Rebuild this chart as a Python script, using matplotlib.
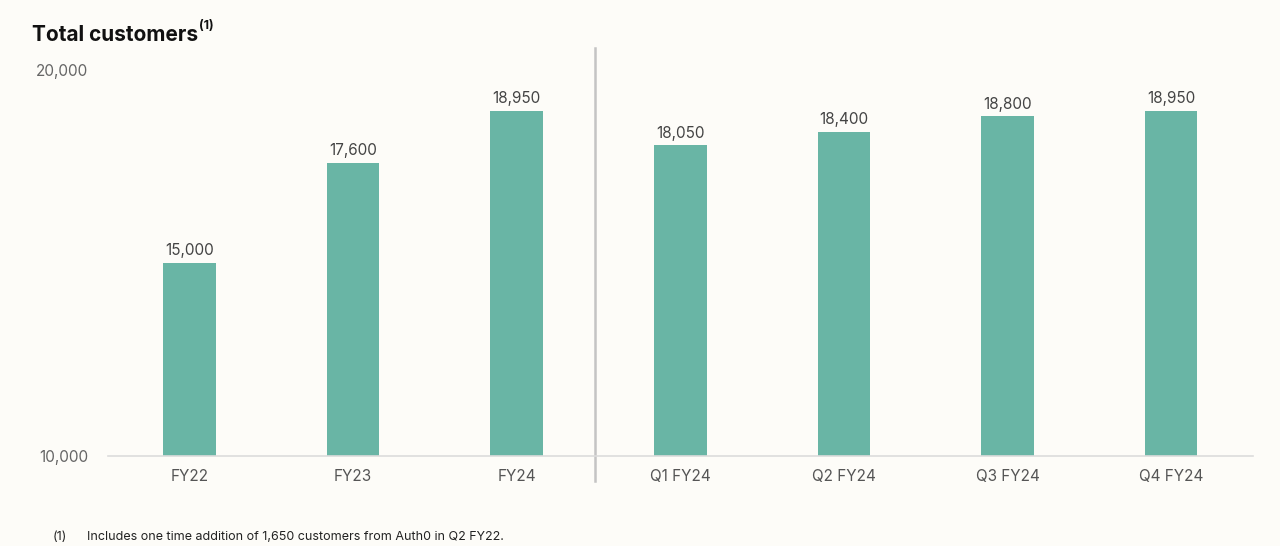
import matplotlib.pyplot as plt
from matplotlib.lines import Line2D

categories = ["FY22", "FY23", "FY24", "Q1 FY24", "Q2 FY24", "Q3 FY24", "Q4 FY24"]
customers = [15000, 17600, 18950, 18050, 18400, 18800, 18950]
y_ticks = [10000, 20000]

bg = "#fdfcf8"
bar_color = "#69b5a5"
plt.rcParams["font.family"] = ["Inter", "DejaVu Sans"]

fig = plt.figure(figsize=(12.8, 5.46), dpi=100, facecolor=bg)
ax = fig.add_axes([0.084, 0.1648, 0.895, 0.7473])
ax.set_facecolor(bg)

x = list(range(len(categories)))
ax.bar(x, customers, width=0.32, color=bar_color, zorder=2)
for xi, v in zip(x, customers):
    ax.text(xi, v + 120, f"{v:,}", ha="center", va="bottom", fontsize=11, color="#444444")

ax.set_xlim(-0.5, len(categories) - 0.5)
ax.set_ylim(10000, 20570)
ax.set_xticks(x)
ax.set_xticklabels(categories, fontsize=11, color="#555555")
ax.set_yticks(y_ticks)
ax.set_yticklabels([f"{t:,}" for t in y_ticks], fontsize=11, color="#666666")
ax.tick_params(axis="x", length=0, pad=9)
ax.tick_params(axis="y", length=0, pad=14)

for s in ["top", "right", "left"]:
    ax.spines[s].set_visible(False)
ax.spines["bottom"].set_color("#dcdcdc")
ax.spines["bottom"].set_linewidth(1.2)

# divider between annual and quarterly bars
ax.add_line(Line2D([2.48, 2.48], [9352, 20570], color="#c4c4c4", lw=1.8, clip_on=False))

fig.text(0.025, 0.935, "Total customers", fontsize=15, fontweight="bold",
         color="#111111", va="center")
fig.text(0.1555, 0.952, "(1)", fontsize=9, fontweight="bold", color="#111111", va="center")
fig.text(0.041, 0.017, "(1)", fontsize=9, color="#222222", va="center")
fig.text(0.068, 0.017, "Includes one time addition of 1,650 customers from Auth0 in Q2 FY22.",
         fontsize=9, color="#222222", va="center")

fig.savefig("out.png", dpi=100, facecolor=bg)
